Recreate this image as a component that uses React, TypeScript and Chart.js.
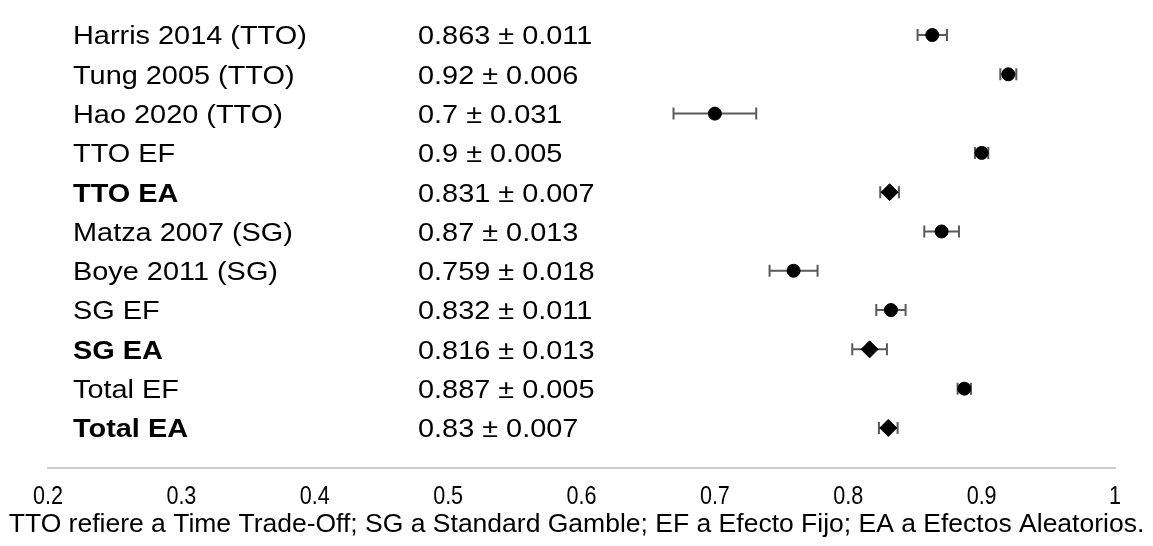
import React, { useEffect, useRef } from 'react';
import { Chart, registerables } from 'chart.js';

Chart.register(...registerables);

const studyLabels = [
  'Harris 2014 (TTO)',
  'Tung 2005 (TTO)',
  'Hao 2020 (TTO)',
  'TTO EF',
  'TTO EA',
  'Matza 2007 (SG)',
  'Boye 2011 (SG)',
  'SG EF',
  'SG EA',
  'Total EF',
  'Total EA',
];
const means = [0.863, 0.92, 0.7, 0.9, 0.831, 0.87, 0.759, 0.832, 0.816, 0.887, 0.83];
const errors = [0.011, 0.006, 0.031, 0.005, 0.007, 0.013, 0.018, 0.011, 0.013, 0.005, 0.007];
const pooledRows = [false, false, false, false, true, false, false, false, true, false, true];
const xTickValues = [0.2, 0.3, 0.4, 0.5, 0.6, 0.7, 0.8, 0.9, 1];
const xTickLabels = ['0.2', '0.3', '0.4', '0.5', '0.6', '0.7', '0.8', '0.9', '1'];
const caption =
  'TTO refiere a Time Trade-Off; SG a Standard Gamble; EF a Efecto Fijo; EA a Efectos Aleatorios.';

const valueLabels = means.map((m, i) => `${m} ± ${errors[i]}`);

const FONT = '"Liberation Sans", Arial, Helvetica, sans-serif';

function drawScaledText(ctx: CanvasRenderingContext2D, text: string, x: number, y: number, sx: number) {
  ctx.save();
  ctx.translate(x, y);
  ctx.scale(sx, 1);
  ctx.fillText(text, 0, 0);
  ctx.restore();
}

const errorBarPlugin = {
  id: 'errorBars',
  beforeDatasetsDraw(chart: any) {
    const { ctx, scales } = chart;
    const x = scales.x;
    const y = scales.y;
    ctx.save();
    ctx.strokeStyle = '#5a5a5a';
    ctx.lineWidth = 2;
    means.forEach((m, i) => {
      const py = y.getPixelForValue(i);
      const x0 = x.getPixelForValue(m - errors[i]);
      const x1 = x.getPixelForValue(m + errors[i]);
      ctx.beginPath();
      ctx.moveTo(x0, py);
      ctx.lineTo(x1, py);
      ctx.moveTo(x0, py - 6);
      ctx.lineTo(x0, py + 6);
      ctx.moveTo(x1, py - 6);
      ctx.lineTo(x1, py + 6);
      ctx.stroke();
    });
    ctx.restore();
  },
};

const textPlugin = {
  id: 'forestText',
  afterDraw(chart: any) {
    const { ctx } = chart;
    const x = chart.scales.x;
    const y = chart.scales.y;
    ctx.save();
    ctx.fillStyle = '#000000';
    ctx.textAlign = 'left';
    ctx.textBaseline = 'middle';
    studyLabels.forEach((lab, i) => {
      const py = y.getPixelForValue(i) + 2;
      ctx.font = `${pooledRows[i] ? 'bold ' : ''}26.5px ${FONT}`;
      drawScaledText(ctx, lab, 73, py, 1.09);
      ctx.font = `26.5px ${FONT}`;
      drawScaledText(ctx, valueLabels[i], 418, py, 1.09);
    });
    // x-axis tick labels (narrow face), placed by the x scale
    ctx.font = `26px ${FONT}`;
    ctx.textAlign = 'center';
    ctx.textBaseline = 'middle';
    xTickValues.forEach((v, i) => {
      drawScaledText(ctx, xTickLabels[i], x.getPixelForValue(v), x.top + 29, 0.83);
    });
    ctx.font = `26.5px ${FONT}`;
    ctx.textAlign = 'center';
    ctx.textBaseline = 'alphabetic';
    ctx.fillText(caption, chart.width / 2, 532);
    ctx.restore();
  },
};

export default function App() {
  const canvasRef = useRef<HTMLCanvasElement | null>(null);

  useEffect(() => {
    if (!canvasRef.current) return;
    const circles = means
      .map((m, i) => ({ x: m, y: i, pooled: pooledRows[i] }))
      .filter((p) => !p.pooled)
      .map((p) => ({ x: p.x, y: p.y }));
    const diamonds = means
      .map((m, i) => ({ x: m, y: i, pooled: pooledRows[i] }))
      .filter((p) => p.pooled)
      .map((p) => ({ x: p.x, y: p.y }));

    const chart = new Chart(canvasRef.current, {
      type: 'scatter',
      data: {
        datasets: [
          {
            label: 'Estudios / EF',
            data: circles,
            pointStyle: 'circle',
            pointRadius: 6.5,
            pointBorderWidth: 1,
            backgroundColor: '#000000',
            borderColor: '#000000',
          },
          {
            label: 'EA',
            data: diamonds,
            pointStyle: 'rectRot',
            pointRadius: 8.5,
            pointBorderWidth: 1,
            backgroundColor: '#000000',
            borderColor: '#000000',
          },
        ],
      },
      options: {
        animation: false,
        responsive: false,
        devicePixelRatio: 1,
        layout: { padding: { left: 48, right: 38, top: 0, bottom: 0 } },
        plugins: {
          legend: { display: false },
          tooltip: { enabled: false },
          title: { display: false },
        },
        scales: {
          x: {
            type: 'linear',
            position: 'bottom',
            min: 0.2,
            max: 1,
            grid: { display: false, drawTicks: false },
            border: { display: true, color: '#cfcfcf', width: 2 },
            afterBuildTicks: (s: any) => {
              s.ticks = xTickValues.map((v) => ({ value: v }));
            },
            afterFit: (s: any) => {
              s.height = 78;
            },
            ticks: {
              display: false,
              autoSkip: false,
            },
          },
          y: {
            type: 'linear',
            display: false,
            reverse: true,
            min: -0.65,
            max: 11.02,
          },
        },
      },
      plugins: [errorBarPlugin, textPlugin],
    });
    return () => chart.destroy();
  }, []);

  return (
    <div style={{ position: 'absolute', left: 0, top: 0, width: 1153, height: 546, background: '#fff' }}>
      <canvas ref={canvasRef} width={1153} height={546} style={{ width: 1153, height: 546, display: 'block' }} />
    </div>
  );
}
